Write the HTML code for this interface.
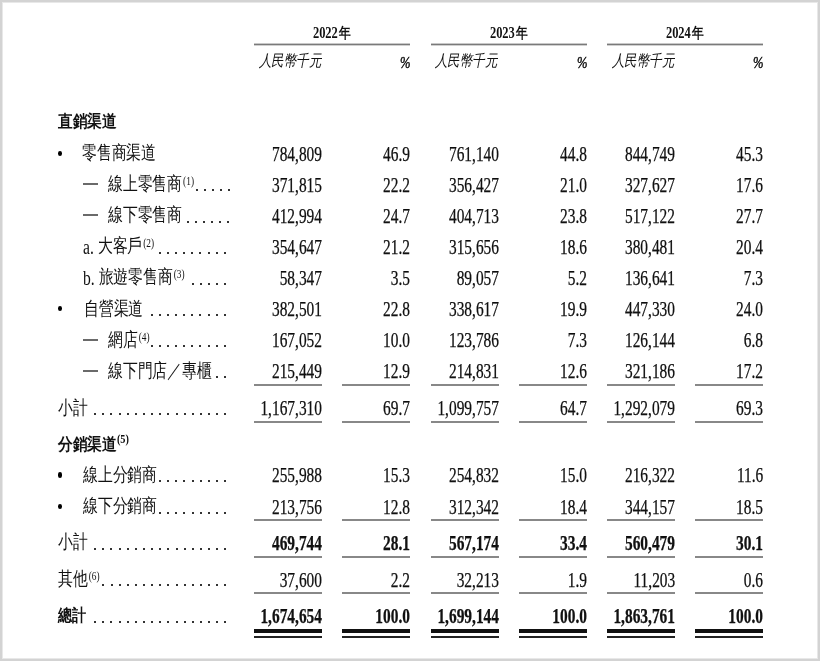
<!DOCTYPE html>
<html lang="zh-Hant"><head><meta charset="utf-8"><title>table</title>
<style>
html,body{margin:0;padding:0;background:#fff}
body{width:820px;height:661px;position:relative;overflow:hidden;font-family:"Liberation Serif",serif;color:#111}
.frame{position:absolute;left:0;top:0;width:820px;height:661px;box-sizing:border-box;border:2px solid #d3d3d3;box-shadow:inset 0 0 0 1px #e8e8e8}
.t{position:absolute;white-space:nowrap;line-height:1em}
.b{font-weight:bold}
.n{-webkit-text-stroke:0.25px #000}
.i{font-style:italic}
.h{font-weight:bold;font-family:"Liberation Sans",sans-serif}
.c{position:relative;top:-1.6px;font-size:19.3px}
sup{font-size:12px;vertical-align:0;position:relative;top:-0.55em;margin-left:1.3px;margin-right:0px}
.bs{font-family:'Liberation Serif',serif;margin-left:0.5px}
.bs{font-weight:bold}
.l{position:absolute}
.wrap{position:absolute;left:0;top:0;width:820px;height:661px;will-change:transform}
.d{position:absolute;width:2px;height:2px;background:#333}
.bul{position:absolute;width:4.8px;height:5.4px;border-radius:50%;background:#000}
</style></head><body>
<div class="frame"></div>
<div class="wrap">
<div class="t b" style="left:132.00px;width:400px;text-align:center;top:25.20px;font-size:16px;transform:scaleX(0.78);transform-origin:50% 0;">2022<span style="font-size:15px;margin-left:2px">年</span></div>
<div class="l" style="left:254px;top:44px;width:156px;height:1px;background:#7a7a7a"></div>
<div class="l" style="left:254px;top:43px;width:156px;height:1px;background:#c8c8c8"></div>
<div class="l" style="left:254px;top:45px;width:156px;height:1px;background:#d0d0d0"></div>
<div class="t i" style="right:499.50px;top:53.10px;font-size:16px;transform:scaleX(0.78);transform-origin:100% 0;">人民幣千元</div>
<div class="t i" style="right:409.20px;top:54.53px;font-size:16.2px;transform:scaleX(0.78);transform-origin:100% 0;-webkit-text-stroke:0.45px #111;">%</div>
<div class="t b" style="left:309.00px;width:400px;text-align:center;top:25.20px;font-size:16px;transform:scaleX(0.78);transform-origin:50% 0;">2023<span style="font-size:15px;margin-left:2px">年</span></div>
<div class="l" style="left:431px;top:44px;width:156px;height:1px;background:#7a7a7a"></div>
<div class="l" style="left:431px;top:43px;width:156px;height:1px;background:#c8c8c8"></div>
<div class="l" style="left:431px;top:45px;width:156px;height:1px;background:#d0d0d0"></div>
<div class="t i" style="right:323.50px;top:53.10px;font-size:16px;transform:scaleX(0.78);transform-origin:100% 0;">人民幣千元</div>
<div class="t i" style="right:232.20px;top:54.53px;font-size:16.2px;transform:scaleX(0.78);transform-origin:100% 0;-webkit-text-stroke:0.45px #111;">%</div>
<div class="t b" style="left:485.00px;width:400px;text-align:center;top:25.20px;font-size:16px;transform:scaleX(0.78);transform-origin:50% 0;">2024<span style="font-size:15px;margin-left:2px">年</span></div>
<div class="l" style="left:607px;top:44px;width:156px;height:1px;background:#7a7a7a"></div>
<div class="l" style="left:607px;top:43px;width:156px;height:1px;background:#c8c8c8"></div>
<div class="l" style="left:607px;top:45px;width:156px;height:1px;background:#d0d0d0"></div>
<div class="t i" style="right:146.50px;top:53.10px;font-size:16px;transform:scaleX(0.78);transform-origin:100% 0;">人民幣千元</div>
<div class="t i" style="right:56.20px;top:54.53px;font-size:16.2px;transform:scaleX(0.78);transform-origin:100% 0;-webkit-text-stroke:0.45px #111;">%</div>
<div class="t h" style="left:58.00px;top:113.26px;font-size:17px;transform:scaleX(0.86);transform-origin:0 0;">直銷渠道</div>
<div class="t h" style="left:58.00px;top:435.76px;font-size:17px;transform:scaleX(0.86);transform-origin:0 0;">分銷渠道<sup class="bs">(5)</sup></div>
<div class="bul" style="left:57.6px;top:150.50px"></div>
<div class="t " style="left:82.20px;top:143.65px;font-size:20px;transform:scaleX(0.78);transform-origin:0 0;"><span class="c">零售商渠道</span></div>
<div class="t n" style="right:498.00px;top:143.65px;font-size:20px;transform:scaleX(0.77);transform-origin:100% 0;">784,809</div>
<div class="t n" style="right:410.00px;top:143.65px;font-size:20px;transform:scaleX(0.77);transform-origin:100% 0;">46.9</div>
<div class="t n" style="right:321.00px;top:143.65px;font-size:20px;transform:scaleX(0.77);transform-origin:100% 0;">761,140</div>
<div class="t n" style="right:233.00px;top:143.65px;font-size:20px;transform:scaleX(0.77);transform-origin:100% 0;">44.8</div>
<div class="t n" style="right:145.00px;top:143.65px;font-size:20px;transform:scaleX(0.77);transform-origin:100% 0;">844,749</div>
<div class="t n" style="right:57.00px;top:143.65px;font-size:20px;transform:scaleX(0.77);transform-origin:100% 0;">45.3</div>
<div class="l" style="left:82.5px;top:183px;width:15.0px;height:2px;background:#6a6a6a"></div>
<div class="t " style="left:108.20px;top:174.74px;font-size:20px;transform:scaleX(0.78);transform-origin:0 0;"><span class="c">線上零售商</span><sup>(1)</sup></div>
<div class="d" style="left:196px;top:189px"></div>
<div class="d" style="left:204px;top:189px"></div>
<div class="d" style="left:212px;top:189px"></div>
<div class="d" style="left:220px;top:189px"></div>
<div class="d" style="left:228px;top:189px"></div>
<div class="t n" style="right:498.00px;top:174.74px;font-size:20px;transform:scaleX(0.77);transform-origin:100% 0;">371,815</div>
<div class="t n" style="right:410.00px;top:174.74px;font-size:20px;transform:scaleX(0.77);transform-origin:100% 0;">22.2</div>
<div class="t n" style="right:321.00px;top:174.74px;font-size:20px;transform:scaleX(0.77);transform-origin:100% 0;">356,427</div>
<div class="t n" style="right:233.00px;top:174.74px;font-size:20px;transform:scaleX(0.77);transform-origin:100% 0;">21.0</div>
<div class="t n" style="right:145.00px;top:174.74px;font-size:20px;transform:scaleX(0.77);transform-origin:100% 0;">327,627</div>
<div class="t n" style="right:57.00px;top:174.74px;font-size:20px;transform:scaleX(0.77);transform-origin:100% 0;">17.6</div>
<div class="l" style="left:82.5px;top:214px;width:15.0px;height:2px;background:#6a6a6a"></div>
<div class="t " style="left:108.20px;top:205.83px;font-size:20px;transform:scaleX(0.78);transform-origin:0 0;"><span class="c">線下零售商</span></div>
<div class="d" style="left:187px;top:221px"></div>
<div class="d" style="left:195px;top:221px"></div>
<div class="d" style="left:203px;top:221px"></div>
<div class="d" style="left:211px;top:221px"></div>
<div class="d" style="left:219px;top:221px"></div>
<div class="d" style="left:227px;top:221px"></div>
<div class="t n" style="right:498.00px;top:205.83px;font-size:20px;transform:scaleX(0.77);transform-origin:100% 0;">412,994</div>
<div class="t n" style="right:410.00px;top:205.83px;font-size:20px;transform:scaleX(0.77);transform-origin:100% 0;">24.7</div>
<div class="t n" style="right:321.00px;top:205.83px;font-size:20px;transform:scaleX(0.77);transform-origin:100% 0;">404,713</div>
<div class="t n" style="right:233.00px;top:205.83px;font-size:20px;transform:scaleX(0.77);transform-origin:100% 0;">23.8</div>
<div class="t n" style="right:145.00px;top:205.83px;font-size:20px;transform:scaleX(0.77);transform-origin:100% 0;">517,122</div>
<div class="t n" style="right:57.00px;top:205.83px;font-size:20px;transform:scaleX(0.77);transform-origin:100% 0;">27.7</div>
<div class="t " style="left:82.90px;top:236.92px;font-size:20px;transform:scaleX(0.78);transform-origin:0 0;">a. <span class="c">大客戶</span><sup>(2)</sup></div>
<div class="d" style="left:159px;top:252px"></div>
<div class="d" style="left:167px;top:252px"></div>
<div class="d" style="left:175px;top:252px"></div>
<div class="d" style="left:183px;top:252px"></div>
<div class="d" style="left:191px;top:252px"></div>
<div class="d" style="left:199px;top:252px"></div>
<div class="d" style="left:208px;top:252px"></div>
<div class="d" style="left:216px;top:252px"></div>
<div class="d" style="left:224px;top:252px"></div>
<div class="t n" style="right:498.00px;top:236.92px;font-size:20px;transform:scaleX(0.77);transform-origin:100% 0;">354,647</div>
<div class="t n" style="right:410.00px;top:236.92px;font-size:20px;transform:scaleX(0.77);transform-origin:100% 0;">21.2</div>
<div class="t n" style="right:321.00px;top:236.92px;font-size:20px;transform:scaleX(0.77);transform-origin:100% 0;">315,656</div>
<div class="t n" style="right:233.00px;top:236.92px;font-size:20px;transform:scaleX(0.77);transform-origin:100% 0;">18.6</div>
<div class="t n" style="right:145.00px;top:236.92px;font-size:20px;transform:scaleX(0.77);transform-origin:100% 0;">380,481</div>
<div class="t n" style="right:57.00px;top:236.92px;font-size:20px;transform:scaleX(0.77);transform-origin:100% 0;">20.4</div>
<div class="t " style="left:82.90px;top:268.01px;font-size:20px;transform:scaleX(0.78);transform-origin:0 0;">b. <span class="c">旅遊零售商</span><sup>(3)</sup></div>
<div class="d" style="left:192px;top:283px"></div>
<div class="d" style="left:200px;top:283px"></div>
<div class="d" style="left:208px;top:283px"></div>
<div class="d" style="left:216px;top:283px"></div>
<div class="d" style="left:224px;top:283px"></div>
<div class="t n" style="right:498.00px;top:268.01px;font-size:20px;transform:scaleX(0.77);transform-origin:100% 0;">58,347</div>
<div class="t n" style="right:410.00px;top:268.01px;font-size:20px;transform:scaleX(0.77);transform-origin:100% 0;">3.5</div>
<div class="t n" style="right:321.00px;top:268.01px;font-size:20px;transform:scaleX(0.77);transform-origin:100% 0;">89,057</div>
<div class="t n" style="right:233.00px;top:268.01px;font-size:20px;transform:scaleX(0.77);transform-origin:100% 0;">5.2</div>
<div class="t n" style="right:145.00px;top:268.01px;font-size:20px;transform:scaleX(0.77);transform-origin:100% 0;">136,641</div>
<div class="t n" style="right:57.00px;top:268.01px;font-size:20px;transform:scaleX(0.77);transform-origin:100% 0;">7.3</div>
<div class="bul" style="left:57.6px;top:305.95px"></div>
<div class="t " style="left:84.00px;top:299.10px;font-size:20px;transform:scaleX(0.78);transform-origin:0 0;"><span class="c">自營渠道</span></div>
<div class="d" style="left:151px;top:314px"></div>
<div class="d" style="left:159px;top:314px"></div>
<div class="d" style="left:167px;top:314px"></div>
<div class="d" style="left:175px;top:314px"></div>
<div class="d" style="left:183px;top:314px"></div>
<div class="d" style="left:191px;top:314px"></div>
<div class="d" style="left:199px;top:314px"></div>
<div class="d" style="left:208px;top:314px"></div>
<div class="d" style="left:216px;top:314px"></div>
<div class="d" style="left:224px;top:314px"></div>
<div class="t n" style="right:498.00px;top:299.10px;font-size:20px;transform:scaleX(0.77);transform-origin:100% 0;">382,501</div>
<div class="t n" style="right:410.00px;top:299.10px;font-size:20px;transform:scaleX(0.77);transform-origin:100% 0;">22.8</div>
<div class="t n" style="right:321.00px;top:299.10px;font-size:20px;transform:scaleX(0.77);transform-origin:100% 0;">338,617</div>
<div class="t n" style="right:233.00px;top:299.10px;font-size:20px;transform:scaleX(0.77);transform-origin:100% 0;">19.9</div>
<div class="t n" style="right:145.00px;top:299.10px;font-size:20px;transform:scaleX(0.77);transform-origin:100% 0;">447,330</div>
<div class="t n" style="right:57.00px;top:299.10px;font-size:20px;transform:scaleX(0.77);transform-origin:100% 0;">24.0</div>
<div class="l" style="left:82.5px;top:339px;width:15.0px;height:2px;background:#6a6a6a"></div>
<div class="t " style="left:108.20px;top:330.19px;font-size:20px;transform:scaleX(0.78);transform-origin:0 0;"><span class="c">網店</span><sup>(4)</sup></div>
<div class="d" style="left:151px;top:345px"></div>
<div class="d" style="left:159px;top:345px"></div>
<div class="d" style="left:167px;top:345px"></div>
<div class="d" style="left:175px;top:345px"></div>
<div class="d" style="left:183px;top:345px"></div>
<div class="d" style="left:191px;top:345px"></div>
<div class="d" style="left:199px;top:345px"></div>
<div class="d" style="left:208px;top:345px"></div>
<div class="d" style="left:216px;top:345px"></div>
<div class="d" style="left:224px;top:345px"></div>
<div class="t n" style="right:498.00px;top:330.19px;font-size:20px;transform:scaleX(0.77);transform-origin:100% 0;">167,052</div>
<div class="t n" style="right:410.00px;top:330.19px;font-size:20px;transform:scaleX(0.77);transform-origin:100% 0;">10.0</div>
<div class="t n" style="right:321.00px;top:330.19px;font-size:20px;transform:scaleX(0.77);transform-origin:100% 0;">123,786</div>
<div class="t n" style="right:233.00px;top:330.19px;font-size:20px;transform:scaleX(0.77);transform-origin:100% 0;">7.3</div>
<div class="t n" style="right:145.00px;top:330.19px;font-size:20px;transform:scaleX(0.77);transform-origin:100% 0;">126,144</div>
<div class="t n" style="right:57.00px;top:330.19px;font-size:20px;transform:scaleX(0.77);transform-origin:100% 0;">6.8</div>
<div class="l" style="left:82.5px;top:370px;width:15.0px;height:2px;background:#6a6a6a"></div>
<div class="t " style="left:108.20px;top:361.28px;font-size:20px;transform:scaleX(0.78);transform-origin:0 0;"><span class="c">線下門店／專櫃</span></div>
<div class="d" style="left:216px;top:376px"></div>
<div class="d" style="left:224px;top:376px"></div>
<div class="t n" style="right:498.00px;top:361.28px;font-size:20px;transform:scaleX(0.77);transform-origin:100% 0;">215,449</div>
<div class="t n" style="right:410.00px;top:361.28px;font-size:20px;transform:scaleX(0.77);transform-origin:100% 0;">12.9</div>
<div class="t n" style="right:321.00px;top:361.28px;font-size:20px;transform:scaleX(0.77);transform-origin:100% 0;">214,831</div>
<div class="t n" style="right:233.00px;top:361.28px;font-size:20px;transform:scaleX(0.77);transform-origin:100% 0;">12.6</div>
<div class="t n" style="right:145.00px;top:361.28px;font-size:20px;transform:scaleX(0.77);transform-origin:100% 0;">321,186</div>
<div class="t n" style="right:57.00px;top:361.28px;font-size:20px;transform:scaleX(0.77);transform-origin:100% 0;">17.2</div>
<div class="l" style="left:254px;top:384px;width:68px;height:2px;background:#888"></div>
<div class="l" style="left:342px;top:384px;width:68px;height:2px;background:#888"></div>
<div class="l" style="left:431px;top:384px;width:68px;height:2px;background:#888"></div>
<div class="l" style="left:519px;top:384px;width:68px;height:2px;background:#888"></div>
<div class="l" style="left:607px;top:384px;width:68px;height:2px;background:#888"></div>
<div class="l" style="left:695px;top:384px;width:68px;height:2px;background:#888"></div>
<div class="t " style="left:57.90px;top:398.15px;font-size:20px;transform:scaleX(0.78);transform-origin:0 0;"><span class="c">小計</span></div>
<div class="d" style="left:94px;top:413px"></div>
<div class="d" style="left:102px;top:413px"></div>
<div class="d" style="left:110px;top:413px"></div>
<div class="d" style="left:119px;top:413px"></div>
<div class="d" style="left:127px;top:413px"></div>
<div class="d" style="left:135px;top:413px"></div>
<div class="d" style="left:143px;top:413px"></div>
<div class="d" style="left:151px;top:413px"></div>
<div class="d" style="left:159px;top:413px"></div>
<div class="d" style="left:167px;top:413px"></div>
<div class="d" style="left:176px;top:413px"></div>
<div class="d" style="left:184px;top:413px"></div>
<div class="d" style="left:192px;top:413px"></div>
<div class="d" style="left:200px;top:413px"></div>
<div class="d" style="left:208px;top:413px"></div>
<div class="d" style="left:216px;top:413px"></div>
<div class="d" style="left:224px;top:413px"></div>
<div class="t n" style="right:498.00px;top:398.15px;font-size:20px;transform:scaleX(0.77);transform-origin:100% 0;">1,167,310</div>
<div class="t n" style="right:410.00px;top:398.15px;font-size:20px;transform:scaleX(0.77);transform-origin:100% 0;">69.7</div>
<div class="t n" style="right:321.00px;top:398.15px;font-size:20px;transform:scaleX(0.77);transform-origin:100% 0;">1,099,757</div>
<div class="t n" style="right:233.00px;top:398.15px;font-size:20px;transform:scaleX(0.77);transform-origin:100% 0;">64.7</div>
<div class="t n" style="right:145.00px;top:398.15px;font-size:20px;transform:scaleX(0.77);transform-origin:100% 0;">1,292,079</div>
<div class="t n" style="right:57.00px;top:398.15px;font-size:20px;transform:scaleX(0.77);transform-origin:100% 0;">69.3</div>
<div class="l" style="left:254px;top:421px;width:68px;height:2px;background:#888"></div>
<div class="l" style="left:342px;top:421px;width:68px;height:2px;background:#888"></div>
<div class="l" style="left:431px;top:421px;width:68px;height:2px;background:#888"></div>
<div class="l" style="left:519px;top:421px;width:68px;height:2px;background:#888"></div>
<div class="l" style="left:607px;top:421px;width:68px;height:2px;background:#888"></div>
<div class="l" style="left:695px;top:421px;width:68px;height:2px;background:#888"></div>
<div class="bul" style="left:57.6px;top:472.30px"></div>
<div class="t " style="left:83.10px;top:465.45px;font-size:20px;transform:scaleX(0.78);transform-origin:0 0;"><span class="c">線上分銷商</span></div>
<div class="d" style="left:159px;top:480px"></div>
<div class="d" style="left:167px;top:480px"></div>
<div class="d" style="left:175px;top:480px"></div>
<div class="d" style="left:183px;top:480px"></div>
<div class="d" style="left:192px;top:480px"></div>
<div class="d" style="left:200px;top:480px"></div>
<div class="d" style="left:208px;top:480px"></div>
<div class="d" style="left:216px;top:480px"></div>
<div class="d" style="left:224px;top:480px"></div>
<div class="t n" style="right:498.00px;top:465.45px;font-size:20px;transform:scaleX(0.77);transform-origin:100% 0;">255,988</div>
<div class="t n" style="right:410.00px;top:465.45px;font-size:20px;transform:scaleX(0.77);transform-origin:100% 0;">15.3</div>
<div class="t n" style="right:321.00px;top:465.45px;font-size:20px;transform:scaleX(0.77);transform-origin:100% 0;">254,832</div>
<div class="t n" style="right:233.00px;top:465.45px;font-size:20px;transform:scaleX(0.77);transform-origin:100% 0;">15.0</div>
<div class="t n" style="right:145.00px;top:465.45px;font-size:20px;transform:scaleX(0.77);transform-origin:100% 0;">216,322</div>
<div class="t n" style="right:57.00px;top:465.45px;font-size:20px;transform:scaleX(0.77);transform-origin:100% 0;">11.6</div>
<div class="bul" style="left:57.6px;top:503.60px"></div>
<div class="t " style="left:83.10px;top:496.75px;font-size:20px;transform:scaleX(0.78);transform-origin:0 0;"><span class="c">線下分銷商</span></div>
<div class="d" style="left:159px;top:512px"></div>
<div class="d" style="left:167px;top:512px"></div>
<div class="d" style="left:175px;top:512px"></div>
<div class="d" style="left:183px;top:512px"></div>
<div class="d" style="left:192px;top:512px"></div>
<div class="d" style="left:200px;top:512px"></div>
<div class="d" style="left:208px;top:512px"></div>
<div class="d" style="left:216px;top:512px"></div>
<div class="d" style="left:224px;top:512px"></div>
<div class="t n" style="right:498.00px;top:496.75px;font-size:20px;transform:scaleX(0.77);transform-origin:100% 0;">213,756</div>
<div class="t n" style="right:410.00px;top:496.75px;font-size:20px;transform:scaleX(0.77);transform-origin:100% 0;">12.8</div>
<div class="t n" style="right:321.00px;top:496.75px;font-size:20px;transform:scaleX(0.77);transform-origin:100% 0;">312,342</div>
<div class="t n" style="right:233.00px;top:496.75px;font-size:20px;transform:scaleX(0.77);transform-origin:100% 0;">18.4</div>
<div class="t n" style="right:145.00px;top:496.75px;font-size:20px;transform:scaleX(0.77);transform-origin:100% 0;">344,157</div>
<div class="t n" style="right:57.00px;top:496.75px;font-size:20px;transform:scaleX(0.77);transform-origin:100% 0;">18.5</div>
<div class="l" style="left:254px;top:519px;width:68px;height:2px;background:#888"></div>
<div class="l" style="left:342px;top:519px;width:68px;height:2px;background:#888"></div>
<div class="l" style="left:431px;top:519px;width:68px;height:2px;background:#888"></div>
<div class="l" style="left:519px;top:519px;width:68px;height:2px;background:#888"></div>
<div class="l" style="left:607px;top:519px;width:68px;height:2px;background:#888"></div>
<div class="l" style="left:695px;top:519px;width:68px;height:2px;background:#888"></div>
<div class="t " style="left:57.90px;top:532.75px;font-size:20px;transform:scaleX(0.78);transform-origin:0 0;"><span class="c">小計</span></div>
<div class="d" style="left:94px;top:548px"></div>
<div class="d" style="left:102px;top:548px"></div>
<div class="d" style="left:110px;top:548px"></div>
<div class="d" style="left:119px;top:548px"></div>
<div class="d" style="left:127px;top:548px"></div>
<div class="d" style="left:135px;top:548px"></div>
<div class="d" style="left:143px;top:548px"></div>
<div class="d" style="left:151px;top:548px"></div>
<div class="d" style="left:159px;top:548px"></div>
<div class="d" style="left:167px;top:548px"></div>
<div class="d" style="left:176px;top:548px"></div>
<div class="d" style="left:184px;top:548px"></div>
<div class="d" style="left:192px;top:548px"></div>
<div class="d" style="left:200px;top:548px"></div>
<div class="d" style="left:208px;top:548px"></div>
<div class="d" style="left:216px;top:548px"></div>
<div class="d" style="left:224px;top:548px"></div>
<div class="t n b" style="right:498.00px;top:532.75px;font-size:20px;transform:scaleX(0.77);transform-origin:100% 0;">469,744</div>
<div class="t n b" style="right:410.00px;top:532.75px;font-size:20px;transform:scaleX(0.77);transform-origin:100% 0;">28.1</div>
<div class="t n b" style="right:321.00px;top:532.75px;font-size:20px;transform:scaleX(0.77);transform-origin:100% 0;">567,174</div>
<div class="t n b" style="right:233.00px;top:532.75px;font-size:20px;transform:scaleX(0.77);transform-origin:100% 0;">33.4</div>
<div class="t n b" style="right:145.00px;top:532.75px;font-size:20px;transform:scaleX(0.77);transform-origin:100% 0;">560,479</div>
<div class="t n b" style="right:57.00px;top:532.75px;font-size:20px;transform:scaleX(0.77);transform-origin:100% 0;">30.1</div>
<div class="l" style="left:254px;top:556px;width:68px;height:2px;background:#888"></div>
<div class="l" style="left:342px;top:556px;width:68px;height:2px;background:#888"></div>
<div class="l" style="left:431px;top:556px;width:68px;height:2px;background:#888"></div>
<div class="l" style="left:519px;top:556px;width:68px;height:2px;background:#888"></div>
<div class="l" style="left:607px;top:556px;width:68px;height:2px;background:#888"></div>
<div class="l" style="left:695px;top:556px;width:68px;height:2px;background:#888"></div>
<div class="t " style="left:57.50px;top:569.65px;font-size:20px;transform:scaleX(0.78);transform-origin:0 0;"><span class="c">其他</span><sup>(6)</sup></div>
<div class="d" style="left:102px;top:584px"></div>
<div class="d" style="left:111px;top:584px"></div>
<div class="d" style="left:119px;top:584px"></div>
<div class="d" style="left:127px;top:584px"></div>
<div class="d" style="left:135px;top:584px"></div>
<div class="d" style="left:143px;top:584px"></div>
<div class="d" style="left:151px;top:584px"></div>
<div class="d" style="left:159px;top:584px"></div>
<div class="d" style="left:167px;top:584px"></div>
<div class="d" style="left:176px;top:584px"></div>
<div class="d" style="left:184px;top:584px"></div>
<div class="d" style="left:192px;top:584px"></div>
<div class="d" style="left:200px;top:584px"></div>
<div class="d" style="left:208px;top:584px"></div>
<div class="d" style="left:216px;top:584px"></div>
<div class="d" style="left:224px;top:584px"></div>
<div class="t n" style="right:498.00px;top:569.65px;font-size:20px;transform:scaleX(0.77);transform-origin:100% 0;">37,600</div>
<div class="t n" style="right:410.00px;top:569.65px;font-size:20px;transform:scaleX(0.77);transform-origin:100% 0;">2.2</div>
<div class="t n" style="right:321.00px;top:569.65px;font-size:20px;transform:scaleX(0.77);transform-origin:100% 0;">32,213</div>
<div class="t n" style="right:233.00px;top:569.65px;font-size:20px;transform:scaleX(0.77);transform-origin:100% 0;">1.9</div>
<div class="t n" style="right:145.00px;top:569.65px;font-size:20px;transform:scaleX(0.77);transform-origin:100% 0;">11,203</div>
<div class="t n" style="right:57.00px;top:569.65px;font-size:20px;transform:scaleX(0.77);transform-origin:100% 0;">0.6</div>
<div class="l" style="left:254px;top:592px;width:68px;height:2px;background:#888"></div>
<div class="l" style="left:342px;top:592px;width:68px;height:2px;background:#888"></div>
<div class="l" style="left:431px;top:592px;width:68px;height:2px;background:#888"></div>
<div class="l" style="left:519px;top:592px;width:68px;height:2px;background:#888"></div>
<div class="l" style="left:607px;top:592px;width:68px;height:2px;background:#888"></div>
<div class="l" style="left:695px;top:592px;width:68px;height:2px;background:#888"></div>
<div class="t h" style="left:58.00px;top:606.76px;font-size:17px;transform:scaleX(0.82);transform-origin:0 0;">總計</div>
<div class="d" style="left:94px;top:621px"></div>
<div class="d" style="left:102px;top:621px"></div>
<div class="d" style="left:110px;top:621px"></div>
<div class="d" style="left:119px;top:621px"></div>
<div class="d" style="left:127px;top:621px"></div>
<div class="d" style="left:135px;top:621px"></div>
<div class="d" style="left:143px;top:621px"></div>
<div class="d" style="left:151px;top:621px"></div>
<div class="d" style="left:159px;top:621px"></div>
<div class="d" style="left:167px;top:621px"></div>
<div class="d" style="left:176px;top:621px"></div>
<div class="d" style="left:184px;top:621px"></div>
<div class="d" style="left:192px;top:621px"></div>
<div class="d" style="left:200px;top:621px"></div>
<div class="d" style="left:208px;top:621px"></div>
<div class="d" style="left:216px;top:621px"></div>
<div class="d" style="left:224px;top:621px"></div>
<div class="t n b" style="right:498.00px;top:606.25px;font-size:20px;transform:scaleX(0.77);transform-origin:100% 0;">1,674,654</div>
<div class="t n b" style="right:410.00px;top:606.25px;font-size:20px;transform:scaleX(0.77);transform-origin:100% 0;">100.0</div>
<div class="t n b" style="right:321.00px;top:606.25px;font-size:20px;transform:scaleX(0.77);transform-origin:100% 0;">1,699,144</div>
<div class="t n b" style="right:233.00px;top:606.25px;font-size:20px;transform:scaleX(0.77);transform-origin:100% 0;">100.0</div>
<div class="t n b" style="right:145.00px;top:606.25px;font-size:20px;transform:scaleX(0.77);transform-origin:100% 0;">1,863,761</div>
<div class="t n b" style="right:57.00px;top:606.25px;font-size:20px;transform:scaleX(0.77);transform-origin:100% 0;">100.0</div>
<div class="l" style="left:254px;top:629px;width:68px;height:4px;background:#111"></div>
<div class="l" style="left:342px;top:629px;width:68px;height:4px;background:#111"></div>
<div class="l" style="left:431px;top:629px;width:68px;height:4px;background:#111"></div>
<div class="l" style="left:519px;top:629px;width:68px;height:4px;background:#111"></div>
<div class="l" style="left:607px;top:629px;width:68px;height:4px;background:#111"></div>
<div class="l" style="left:695px;top:629px;width:68px;height:4px;background:#111"></div>
<div class="l" style="left:254px;top:636px;width:68px;height:2px;background:#222"></div>
<div class="l" style="left:342px;top:636px;width:68px;height:2px;background:#222"></div>
<div class="l" style="left:431px;top:636px;width:68px;height:2px;background:#222"></div>
<div class="l" style="left:519px;top:636px;width:68px;height:2px;background:#222"></div>
<div class="l" style="left:607px;top:636px;width:68px;height:2px;background:#222"></div>
<div class="l" style="left:695px;top:636px;width:68px;height:2px;background:#222"></div>
</div>
</body></html>
